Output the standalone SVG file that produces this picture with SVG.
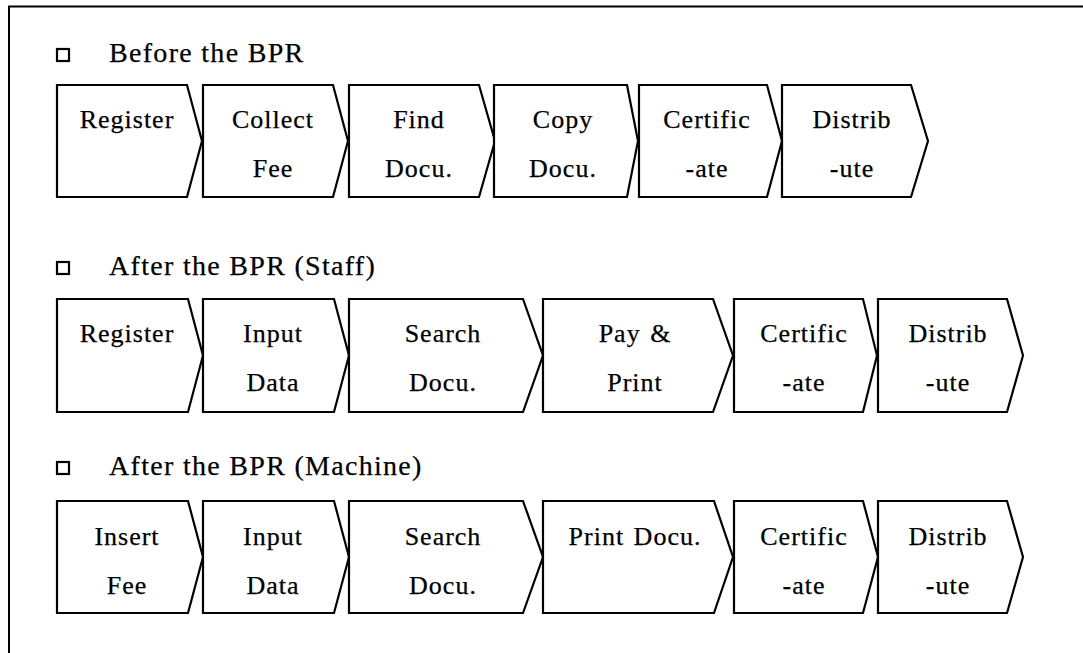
<svg xmlns="http://www.w3.org/2000/svg" width="1083" height="653" viewBox="0 0 1083 653">
  <style>
    .frame { stroke: #000; stroke-width: 2; fill: none; }
    .step { fill: #fff; stroke: #000; stroke-width: 2.2; stroke-linejoin: miter; }
    .bullet { fill: #fff; stroke: #000; stroke-width: 2.2; }
    .label { font-family: "Liberation Serif", "Times New Roman", serif; font-size: 26px; letter-spacing: 1px; word-spacing: 2px; fill: #000; stroke: #000; stroke-width: 0.25; text-anchor: middle; }
    .heading { font-family: "Liberation Serif", "Times New Roman", serif; font-size: 28px; letter-spacing: 1.3px; fill: #000; stroke: #000; stroke-width: 0.25; }
  </style>
  <rect width="1083" height="653" fill="#fff"/>

  <!-- page frame: only top and left edges show -->
  <path class="frame" d="M9,653 V6.5 H1083"/>

  <!-- section headings -->
  <g id="heading-before">
    <rect class="bullet" x="57" y="49" width="12" height="12"/>
    <text class="heading" x="109" y="62">Before the BPR</text>
  </g>
  <g id="heading-staff">
    <rect class="bullet" x="57" y="262" width="12" height="12"/>
    <text class="heading" x="109" y="275">After the BPR (Staff)</text>
  </g>
  <g id="heading-machine">
    <rect class="bullet" x="57" y="462" width="12" height="12"/>
    <text class="heading" x="109" y="475">After the BPR (Machine)</text>
  </g>

  <!-- row 1: before the BPR (top 85, bottom 197) -->
  <g id="b1">
    <polygon class="step" points="57,85 187,85 202,141 187,197 57,197"/>
    <text class="label" x="127" y="128">Register</text>
  </g>
  <g id="b2">
    <polygon class="step" points="203,85 333,85 348,141 333,197 203,197"/>
    <text class="label" x="273" y="128">Collect</text>
    <text class="label" x="273" y="177">Fee</text>
  </g>
  <g id="b3">
    <polygon class="step" points="349,85 479,85 495,141 479,197 349,197"/>
    <text class="label" x="419" y="128">Find</text>
    <text class="label" x="419" y="177">Docu.</text>
  </g>
  <g id="b4">
    <polygon class="step" points="494,85 627,85 638,141 627,197 494,197"/>
    <text class="label" x="563" y="128">Copy</text>
    <text class="label" x="563" y="177">Docu.</text>
  </g>
  <g id="b5">
    <polygon class="step" points="639,85 767,85 782,141 767,197 639,197"/>
    <text class="label" x="707" y="128">Certific</text>
    <text class="label" x="707" y="177">-ate</text>
  </g>
  <g id="b6">
    <polygon class="step" points="782,85 911,85 928,141 911,197 782,197"/>
    <text class="label" x="852" y="128">Distrib</text>
    <text class="label" x="852" y="177">-ute</text>
  </g>

  <!-- row 2: after the BPR, staff (top 299, bottom 412) -->
  <g id="s1">
    <polygon class="step" points="57,299 188,299 203,355.5 188,412 57,412"/>
    <text class="label" x="127" y="342">Register</text>
  </g>
  <g id="s2">
    <polygon class="step" points="203,299 334,299 349,355.5 334,412 203,412"/>
    <text class="label" x="273" y="342">Input</text>
    <text class="label" x="273" y="391">Data</text>
  </g>
  <g id="s3">
    <polygon class="step" points="349,299 523,299 543,355.5 523,412 349,412"/>
    <text class="label" x="443" y="342">Search</text>
    <text class="label" x="443" y="391">Docu.</text>
  </g>
  <g id="s4">
    <polygon class="step" points="543,299 713,299 733,355.5 713,412 543,412"/>
    <text class="label" x="635" y="342">Pay &amp;</text>
    <text class="label" x="635" y="391">Print</text>
  </g>
  <g id="s5">
    <polygon class="step" points="734,299 863,299 877,355.5 863,412 734,412"/>
    <text class="label" x="804" y="342">Certific</text>
    <text class="label" x="804" y="391">-ate</text>
  </g>
  <g id="s6">
    <polygon class="step" points="878,299 1007,299 1023,355.5 1007,412 878,412"/>
    <text class="label" x="948" y="342">Distrib</text>
    <text class="label" x="948" y="391">-ute</text>
  </g>

  <!-- row 3: after the BPR, machine (top 501, bottom 613) -->
  <g id="m1">
    <polygon class="step" points="57,501 188,501 203,557 188,613 57,613"/>
    <text class="label" x="127" y="545">Insert</text>
    <text class="label" x="127" y="594">Fee</text>
  </g>
  <g id="m2">
    <polygon class="step" points="203,501 334,501 349,557 334,613 203,613"/>
    <text class="label" x="273" y="545">Input</text>
    <text class="label" x="273" y="594">Data</text>
  </g>
  <g id="m3">
    <polygon class="step" points="349,501 523,501 543,557 523,613 349,613"/>
    <text class="label" x="443" y="545">Search</text>
    <text class="label" x="443" y="594">Docu.</text>
  </g>
  <g id="m4">
    <polygon class="step" points="543,501 714,501 733,557 714,613 543,613"/>
    <text class="label" x="635" y="545">Print Docu.</text>
  </g>
  <g id="m5">
    <polygon class="step" points="734,501 863,501 878,557 863,613 734,613"/>
    <text class="label" x="804" y="545">Certific</text>
    <text class="label" x="804" y="594">-ate</text>
  </g>
  <g id="m6">
    <polygon class="step" points="878,501 1007,501 1023,557 1007,613 878,613"/>
    <text class="label" x="948" y="545">Distrib</text>
    <text class="label" x="948" y="594">-ute</text>
  </g>

  <!-- the chevrons abut each other, so there are no separate connector lines -->
  <g id="connectors"/>
</svg>
